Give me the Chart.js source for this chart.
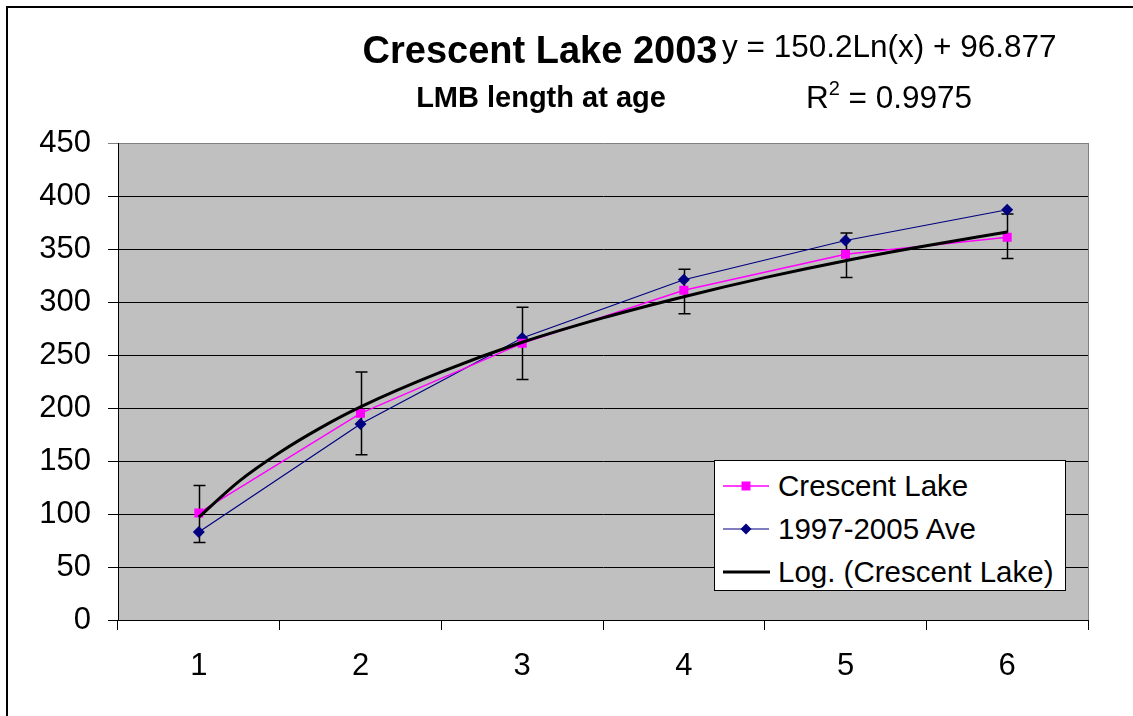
<!DOCTYPE html>
<html>
<head>
<meta charset="utf-8">
<title>Crescent Lake 2003 - LMB length at age</title>
<script src="https://cdn.jsdelivr.net/npm/chart.js@4"></script>
<style>
    body { margin: 0; background: #fff; font-family: "Liberation Sans", Arial, sans-serif; }
    #wrap { position: relative; width: 1133px; height: 716px; overflow: hidden; }
    #frame { position: absolute; left: 6px; top: 6px; width: 1200px; height: 800px;
             border-left: 2px solid #000; border-top: 2px solid #000; }
    #chart { position: absolute; left: 0; top: 0; }
    .txt { position: absolute; line-height: 1; white-space: nowrap; color: #000; }
    #legend { position: absolute; left: 714px; top: 460px; width: 350px; height: 129px;
              background: #fff; border: 1px solid #000; }
    #legend .row { position: absolute; left: 0; width: 350px; height: 30px; }
    #legend svg { position: absolute; left: 8px; top: 5px; }
    #legend span { position: absolute; left: 63px; top: 0px; font-size: 29.5px; line-height: 1; }
</style>
</head>
<body>
<div id="wrap">
    <div id="frame"></div>
    <canvas id="chart" width="1133" height="716"></canvas>

    <div class="txt" style="left:240px; width:600px; text-align:center; top:31px; font-size:38px; font-weight:bold;">Crescent Lake 2003</div>
    <div class="txt" style="left:241px; width:600px; text-align:center; top:83px; font-size:29px; font-weight:bold;">LMB length at age</div>
    <div class="txt" style="left:722px; top:31px; font-size:31.5px;">y = 150.2Ln(x) + 96.877</div>
    <div class="txt" style="left:722px; width:334px; text-align:center; top:82px; font-size:31.5px;">R<span style="font-size:20px; position:relative; top:-13px;">2</span> = 0.9975</div>

    <div id="legend">
        <div class="row" style="top:10px;">
            <svg width="48" height="20"><line x1="0" y1="10" x2="46" y2="10" stroke="#FF00FF" stroke-width="1.5"/><rect x="18.5" y="5.5" width="9" height="9" fill="#FF00FF"/></svg>
            <span>Crescent Lake</span>
        </div>
        <div class="row" style="top:53px;">
            <svg width="48" height="20"><line x1="0" y1="10" x2="46" y2="10" stroke="#000080" stroke-width="1.2"/><polygon points="23,4.5 28.5,10 23,15.5 17.5,10" fill="#000080"/></svg>
            <span>1997-2005 Ave</span>
        </div>
        <div class="row" style="top:96px;">
            <svg width="48" height="20"><line x1="0" y1="10" x2="47" y2="10" stroke="#000" stroke-width="3"/></svg>
            <span>Log. (Crescent Lake)</span>
        </div>
    </div>
</div>

<script>
// chart data
const ages = ['1', '2', '3', '4', '5', '6'];
const crescentLake = [101, 195, 261, 311, 345, 361];
const aveLength = [83, 185, 266, 321, 358, 387];
const crescentLow = [73, 156, 227, 289, 323, 341];
const crescentHigh = [127, 234, 295, 331, 365, 383];
// log trendline (x = age)
const trendAge = [1, 1.25, 1.5, 1.75, 2, 2.5, 3, 3.5, 4, 4.5, 5, 5.5, 6];
const trendLength = [97, 131, 158, 181, 201, 234, 262, 285, 305, 323, 339, 353, 366];
const yMin = 0;
const yMax = 450;
const yStep = 50;

const fontFamily = '"Liberation Sans", Arial, sans-serif';

// grey plot area + grey right edge
const plotArea = {
    id: 'plotArea',
    beforeDraw(chart) {
        const a = chart.chartArea;
        const ctx = chart.ctx;
        ctx.save();
        ctx.fillStyle = '#C0C0C0';
        ctx.fillRect(a.left, a.top, a.right - a.left, a.bottom - a.top);
        ctx.restore();
    },
    beforeDatasetsDraw(chart) {
        const a = chart.chartArea;
        const ctx = chart.ctx;
        ctx.save();
        ctx.strokeStyle = '#808080';
        ctx.lineWidth = 1;
        ctx.beginPath();
        ctx.moveTo(Math.round(a.right) + 0.5, a.top);
        ctx.lineTo(Math.round(a.right) + 0.5, a.bottom);
        ctx.stroke();
        ctx.restore();
    }
};

// error bars on the Crescent Lake series
const errorBars = {
    id: 'errorBars',
    beforeDatasetsDraw(chart) {
        const xs = chart.scales.x;
        const ys = chart.scales.y;
        const ctx = chart.ctx;
        ctx.save();
        ctx.strokeStyle = '#000';
        ctx.lineWidth = 1.5;
        for (let i = 0; i < ages.length; i++) {
            const px = Math.round(xs.getPixelForValue(i)) + 0.5;
            const lo = ys.getPixelForValue(crescentLow[i]);
            const hi = ys.getPixelForValue(crescentHigh[i]);
            ctx.beginPath();
            ctx.moveTo(px, lo);
            ctx.lineTo(px, hi);
            ctx.moveTo(px - 6, lo);
            ctx.lineTo(px + 6, lo);
            ctx.moveTo(px - 6, hi);
            ctx.lineTo(px + 6, hi);
            ctx.stroke();
        }
        ctx.restore();
    }
};

const ctx = document.getElementById('chart').getContext('2d');
new Chart(ctx, {
    type: 'line',
    data: {
        labels: ages,
        datasets: [{
            label: 'Log. (Crescent Lake)',
            data: trendAge.map((a, i) => ({ x: a, y: trendLength[i] })),
            xAxisID: 'xt',
            borderColor: '#000',
            borderWidth: 3,
            pointRadius: 0,
            cubicInterpolationMode: 'monotone',
            order: 0
        }, {
            label: 'Crescent Lake',
            data: crescentLake,
            borderColor: '#FF00FF',
            backgroundColor: '#FF00FF',
            borderWidth: 1.5,
            pointStyle: 'rect',
            pointRadius: 6.4,
            pointBorderWidth: 0,
            order: 1
        }, {
            label: '1997-2005 Ave',
            data: aveLength,
            borderColor: '#000080',
            backgroundColor: '#000080',
            borderWidth: 1.2,
            pointStyle: 'rectRot',
            pointRadius: 6,
            pointBorderWidth: 0,
            order: 2
        }]
    },
    options: {
        responsive: false,
        animation: false,
        layout: { padding: { left: 0, right: 45, top: 143, bottom: 0 } },
        plugins: {
            legend: { display: false },
            tooltip: { enabled: false }
        },
        scales: {
            x: {
                type: 'category',
                offset: true,
                grid: { offset: true, drawOnChartArea: false, color: '#000', tickLength: 10 },
                border: { color: '#000', width: 1 },
                ticks: { color: '#000', font: { family: fontFamily, size: 31 }, padding: 18, maxRotation: 0 },
                afterFit(s) { s.height = 96; }
            },
            xt: {
                type: 'linear',
                display: false,
                min: 0.5,
                max: 6.5
            },
            y: {
                min: yMin,
                max: yMax,
                ticks: { stepSize: yStep, color: '#000', font: { family: fontFamily, size: 31 }, padding: 17 },
                grid: {
                    color: c => (c.tick && c.tick.value === yMax) ? '#808080' : '#000',
                    tickLength: 10
                },
                border: { color: '#000', width: 1 },
                afterFit(s) { s.width = 118; }
            }
        }
    },
    plugins: [plotArea, errorBars]
});
</script>
</body>
</html>
